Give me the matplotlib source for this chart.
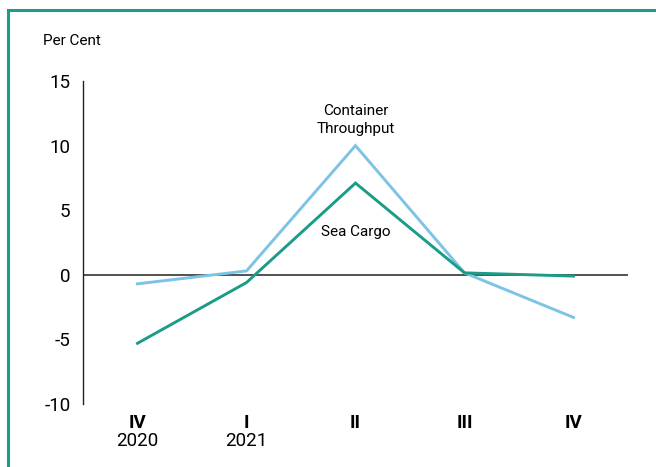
import matplotlib
matplotlib.use("Agg")
import matplotlib.pyplot as plt
from matplotlib.patches import Rectangle
from matplotlib.transforms import blended_transform_factory

plt.rcParams['font.family'] = ['Roboto', 'DejaVu Sans']

# data
quarters = ['IV', 'I', 'II', 'III', 'IV']
years = ['2020', '2021', '', '', '']
container = [-0.7, 0.3, 10.0, 0.15, -3.3]
sea_cargo = [-5.3, -0.6, 7.1, 0.15, -0.1]

teal = '#1a9c87'
blue = '#7cc3e6'

fig = plt.figure(figsize=(6.56, 4.67), dpi=100)
W, H = 656, 467
ax = fig.add_axes([83 / W, 1 - 404 / H, (628 - 83) / W, (404 - 81) / H])

x = list(range(len(quarters)))
ax.plot(x, container, color=blue, lw=2.1, solid_joinstyle='miter')
ax.plot(x, sea_cargo, color=teal, lw=2.1, solid_joinstyle='miter')
ax.axhline(0, color='#222222', lw=1.1, zorder=1)

ax.set_xlim(-0.5, 4.5)
ax.set_ylim(-10, 15)
ax.set_yticks([-10, -5, 0, 5, 10, 15])
ax.set_yticklabels(['-10', '-5', '0', '5', '10', '15'], fontsize=13.5)
ax.set_xticks(x)
ax.set_xticklabels(quarters, fontsize=13.5, fontweight='bold')
ax.tick_params(axis='both', length=0)
ax.tick_params(axis='y', pad=9)
ax.tick_params(axis='x', pad=7)

for s in ['top', 'right', 'bottom']:
    ax.spines[s].set_visible(False)
ax.spines['left'].set_linewidth(1.0)
ax.spines['left'].set_color('#222222')

tr = blended_transform_factory(ax.transData, fig.transFigure)
for xi, yr in zip(x, years):
    if yr:
        ax.text(xi, 1 - 441 / H, yr, transform=tr, ha='center', va='center', fontsize=13.5)

ax.text(2, 12.0, 'Container\nThroughput', ha='center', va='center', fontsize=11, linespacing=1.4)
ax.text(2, 3.3, 'Sea Cargo', ha='center', va='center', fontsize=11)

fig.text(43 / W, 1 - 41 / H, 'Per Cent', ha='left', va='center', fontsize=11)

# frame
fig.patches.append(Rectangle((7.5 / W, -0.1), 1.2, 1 - 9.5 / H + 0.1, transform=fig.transFigure,
                             fill=False, edgecolor=teal, lw=2.2))

fig.savefig('out.png', dpi=100)
